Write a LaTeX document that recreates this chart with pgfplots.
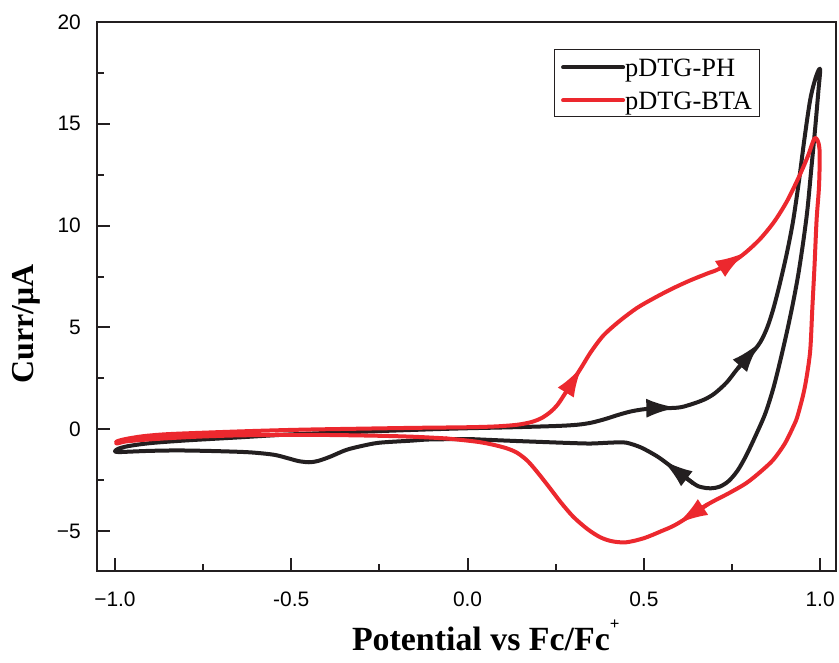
\documentclass[border=0pt]{standalone}
\usepackage{fontspec}
\setmainfont{Liberation Serif}
\newfontfamily\arialf{Liberation Sans}
\usepackage{pgfplots}
\pgfplotsset{compat=1.18}
\usetikzlibrary{arrows.meta}
\definecolor{cvblack}{RGB}{35,31,32}
\definecolor{cvred}{RGB}{236,40,46}
\begin{document}
\begin{tikzpicture}
\begin{axis}[name=ax, scale only axis, width=739bp, height=549bp,
 xmin=-1.051, xmax=1.045, ymin=-6.96, ymax=20,
 axis line style={line width=2.2bp, cvblack},
 tick align=inside, xtick pos=bottom, ytick pos=left,
 major tick length=13bp, minor tick length=7bp,
 every tick/.style={line width=2bp, cvblack},
 xtick={-1,-0.5,0,0.5,1}, xticklabels={−1.0,-0.5,0.0,0.5,1.0},
 ytick={-5,0,5,10,15,20}, yticklabels={−5,0,5,10,15,20},
 minor x tick num=1, minor y tick num=1,
 tick label style={font=\arialf\fontsize{21}{24}\selectfont, inner sep=0pt},
 xticklabel style={anchor=north, yshift=-21bp},
 yticklabel style={anchor=east, xshift=-16bp},
 xlabel={Potential vs Fc/Fc\raisebox{0.62em}{\fontsize{17}{17}\selectfont +}},
 ylabel={Curr/μA},
 every axis x label/.style={at={(axis description cs:0.526,0)}, anchor=base, yshift=-79bp, font=\fontsize{34}{40}\selectfont\bfseries},
 every axis y label/.style={at={(axis description cs:-0.0853,0.45)}, rotate=90, anchor=base, font=\fontsize{32}{38}\selectfont\bfseries},
 legend style={at={(axis description cs:0.618,0.951)}, anchor=north west, draw=cvblack, line width=0.8bp,
   inner xsep=7bp, inner ysep=2bp, row sep=3bp,
   font=\fontsize{26.5}{30}\selectfont,
   nodes={inner sep=0pt, text height=25bp, text depth=5bp},
   /tikz/every even column/.append style={column sep=10bp}},
 legend cell align=left,
 legend image code/.code={\draw[#1, line width=4bp] (0bp,-1bp) -- (60bp,-1bp);},
 every axis plot/.append style={line width=4bp, line join=round, line cap=round, smooth, tension=0.5},
]
\addlegendimage{cvblack}
\addlegendentry{pDTG-PH}
\addlegendimage{cvred}
\addlegendentry{pDTG-BTA}

% pDTG-PH
\addplot[cvblack, -{Latex[length=31bp,width=19bp]}] coordinates {
(0.007,-0.48) (-0.106,-0.5) (-0.16,-0.56) (-0.25,-0.66) (-0.3,-0.82) (-0.345,-1.02) (-0.39,-1.35) (-0.425,-1.56) (-0.45,-1.62) (-0.48,-1.56) (-0.51,-1.42) (-0.55,-1.25) (-0.62,-1.13) (-0.72,-1.07) (-0.82,-1.04) (-0.9,-1.06) (-0.96,-1.1) (-0.99,-1.12) (-1.0,-1.08) (-0.99,-0.95) (-0.96,-0.82) (-0.9,-0.68) (-0.8,-0.55) (-0.65,-0.4) (-0.5,-0.25) (-0.3,-0.12) (-0.1,0.0) (0.0,0.05) (0.13,0.1) (0.25,0.16) (0.31,0.22) (0.35,0.32) (0.39,0.5) (0.43,0.72) (0.47,0.9) (0.52,1.02) (0.595,1.06)
};
\addplot[cvblack, -{Latex[length=31bp,width=19bp]}] coordinates {
(0.52,1.02) (0.595,1.06) (0.63,1.2) (0.67,1.45) (0.70,1.75) (0.735,2.3) (0.767,3.0) (0.83,4.27)
};
\addplot[cvblack, -{Latex[length=31bp,width=19bp]}] coordinates {
(0.767,3.0) (0.80,3.6) (0.83,4.27) (0.85,5.0) (0.867,5.9) (0.885,7.1) (0.905,8.6) (0.923,10.2) (0.94,12.2) (0.955,14.2) (0.972,16.2) (0.988,17.3) (1.0,17.7) (0.995,16.6) (0.986,14.8) (0.975,12.8) (0.964,10.8) (0.952,9.2) (0.938,7.6) (0.923,6.2) (0.906,4.8) (0.886,3.3) (0.867,2.0) (0.845,0.8) (0.82,-0.2) (0.79,-1.3) (0.765,-2.05) (0.74,-2.55) (0.715,-2.82) (0.69,-2.9) (0.665,-2.85) (0.64,-2.65) (0.552,-1.5)
};
\addplot[cvblack] coordinates {
(0.64,-2.65) (0.552,-1.5) (0.52,-1.15) (0.49,-0.88) (0.46,-0.7) (0.44,-0.64) (0.40,-0.66) (0.35,-0.7) (0.30,-0.68) (0.205,-0.62) (0.1,-0.55) (0.007,-0.48)
};

% pDTG-BTA
\addplot[cvred, -{Latex[length=31bp,width=19bp]}] coordinates {
(-0.06,-0.45) (-0.15,-0.37) (-0.25,-0.32) (-0.4,-0.28) (-0.53,-0.28) (-0.65,-0.3) (-0.76,-0.36) (-0.85,-0.44) (-0.92,-0.52) (-0.97,-0.6) (-0.995,-0.7) (-0.995,-0.6) (-0.97,-0.48) (-0.92,-0.34) (-0.85,-0.24) (-0.72,-0.15) (-0.6,-0.08) (-0.47,-0.02) (-0.3,0.03) (-0.15,0.07) (0.0,0.1) (0.08,0.14) (0.14,0.22) (0.18,0.35) (0.21,0.55) (0.235,0.85) (0.255,1.2) (0.28,1.85) (0.325,3.1)
};
\addplot[cvred, -{Latex[length=31bp,width=19bp]}] coordinates {
(0.28,1.85) (0.325,3.1) (0.35,3.8) (0.385,4.6) (0.43,5.3) (0.48,5.95) (0.53,6.45) (0.58,6.9) (0.63,7.3) (0.68,7.65) (0.716,7.9) (0.79,8.7)
};
\addplot[cvred, -{Latex[length=31bp,width=19bp]}] coordinates {
(0.716,7.9) (0.755,8.25) (0.79,8.7) (0.83,9.35) (0.87,10.2) (0.906,11.2) (0.94,12.4) (0.965,13.4) (0.985,14.3) (0.998,13.8) (0.997,12.0) (0.99,10.3) (0.984,8.0) (0.978,6.0) (0.972,3.9) (0.962,2.6) (0.952,1.7) (0.935,0.6) (0.923,0.1) (0.9,-0.7) (0.867,-1.5) (0.83,-2.1) (0.79,-2.65) (0.74,-3.15) (0.68,-3.7) (0.594,-4.65)
};
\addplot[cvred] coordinates {
(0.68,-3.7) (0.594,-4.65) (0.55,-5.0) (0.5,-5.35) (0.45,-5.55) (0.41,-5.5) (0.376,-5.3) (0.34,-4.9) (0.30,-4.3) (0.265,-3.6) (0.234,-2.9) (0.2,-2.15) (0.17,-1.55) (0.14,-1.15) (0.11,-0.93) (0.07,-0.75) (0.03,-0.62) (-0.02,-0.52) (-0.06,-0.45)
};
\end{axis}
\pgfresetboundingbox
\path[use as bounding box] ([shift={(-97bp,-92bp)}]ax.south west) rectangle ([shift={(3bp,22bp)}]ax.north east);
\end{tikzpicture}
\end{document}
